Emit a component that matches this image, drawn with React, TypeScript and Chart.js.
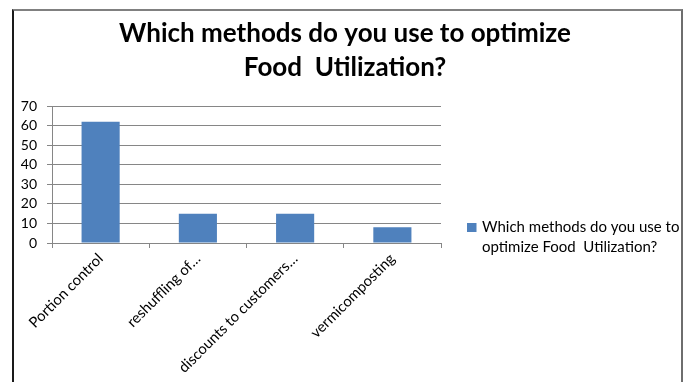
import React, { useEffect, useRef } from "react";
import { Chart, registerables } from "chart.js";

Chart.register(...registerables);

const categories = ["Portion control", "reshuffling of…", "discounts to customers…", "vermicomposting"];
const values = [62, 15, 15, 8];
const seriesLabel = "Which methods do you use to optimize Food  Utilization?";
const titleLines = ["Which methods do you use to optimize", "Food  Utilization?"];
const yMin = 0;
const yMax = 70;
const yStep = 10;

const FONT = "Lato, 'Open Sans', sans-serif";
const BAR = "#4F81BD";
const GRID = "#868686";

function wrapText(ctx: CanvasRenderingContext2D, text: string, maxW: number): string[] {
  const words = text.split(" ");
  const lines: string[] = [];
  let cur = "";
  for (let i = 0; i < words.length; i++) {
    const w = words[i];
    const test = cur === "" ? w : cur + " " + w;
    if (ctx.measureText(test).width > maxW && cur !== "") {
      lines.push(cur);
      cur = w;
    } else {
      cur = test;
    }
  }
  if (cur) lines.push(cur);
  return lines;
}

const customTitle = {
  id: "customTitle",
  afterDraw(chart: any) {
    const ctx: CanvasRenderingContext2D = chart.ctx;
    ctx.save();
    ctx.font = `bold 26px ${FONT}`;
    ctx.fillStyle = "#000";
    ctx.textAlign = "center";
    ctx.textBaseline = "alphabetic";
    const cx = chart.width / 2;
    titleLines.forEach((ln, i) => ctx.fillText(ln, cx, 42 + i * 34));
    ctx.restore();
  },
};

const sideLegend = {
  id: "sideLegend",
  afterDraw(chart: any) {
    const ctx: CanvasRenderingContext2D = chart.ctx;
    const area = chart.chartArea;
    const ds = chart.data.datasets[0];
    ctx.save();
    ctx.font = `15px ${FONT}`;
    ctx.textBaseline = "middle";
    ctx.textAlign = "left";
    const lines = wrapText(ctx, ds.label, 215);
    const lineH = 20;
    const bx = area.right + 26;
    const firstY = area.bottom - 15.5;
    ctx.fillStyle = ds.backgroundColor;
    ctx.fillRect(bx, firstY - 4.5, 9.5, 9);
    ctx.fillStyle = "#000";
    lines.forEach((ln, i) => {
      ctx.fillText(ln, bx + 15, firstY + i * lineH);
    });
    ctx.restore();
  },
};

export default function App() {
  const ref = useRef<HTMLCanvasElement>(null);
  useEffect(() => {
    if (!ref.current) return;
    const chart = new Chart(ref.current, {
      type: "bar",
      data: {
        labels: categories,
        datasets: [
          {
            label: seriesLabel,
            data: values,
            backgroundColor: BAR,
            borderWidth: 0,
            categoryPercentage: 0.8,
            barPercentage: 0.49,
          },
        ],
      },
      options: {
        animation: false,
        responsive: false,
        maintainAspectRatio: false,
        layout: { padding: { left: 13, right: 249, top: 106, bottom: 0 } },
        plugins: {
          legend: { display: false },
          tooltip: { enabled: false },
          title: { display: false },
        },
        scales: {
          x: {
            offset: true,
            grid: {
              display: true,
              offset: true,
              drawOnChartArea: false,
              drawTicks: true,
              tickLength: 5,
              color: GRID,
            },
            border: { display: true, color: GRID, width: 1 },
            ticks: {
              color: "#000",
              font: { family: FONT, size: 14.8 },
              minRotation: 45,
              maxRotation: 45,
              autoSkip: false,
              padding: 2,
            },
            afterFit(scale: any) {
              scale.height = 139;
            },
          },
          y: {
            min: yMin,
            max: yMax,
            ticks: {
              stepSize: yStep,
              autoSkip: false,
              color: "#000",
              font: { family: FONT, size: 14 },
              padding: 10,
            },
            grid: { color: GRID, tickLength: 5, drawTicks: true },
            border: { display: true, color: GRID, width: 1 },
            afterFit(scale: any) {
              scale.width = 39;
            },
          },
        },
      },
      plugins: [customTitle, sideLegend],
    });
    return () => chart.destroy();
  }, []);

  return (
    <div style={{ position: "fixed", left: 0, top: 0, width: 690, height: 382, background: "#fff", overflow: "hidden" }}>
      <canvas ref={ref} width={690} height={382} style={{ position: "absolute", left: 0, top: 0 }} />
      <div
        style={{
          position: "absolute",
          left: 12,
          top: 9,
          width: 671,
          height: 420,
          boxSizing: "border-box",
          borderLeft: "2px solid #1a1a1a",
          borderTop: "2px solid #808080",
          borderRight: "2px solid #6e6e6e",
          pointerEvents: "none",
        }}
      />
    </div>
  );
}
